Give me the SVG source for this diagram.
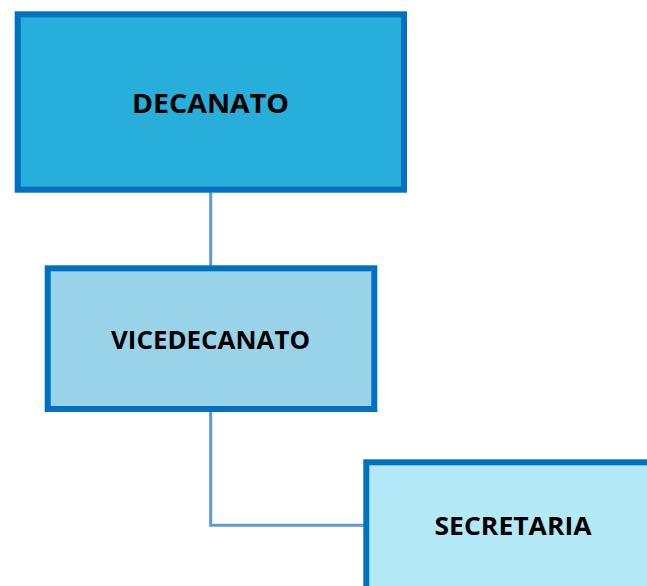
<svg xmlns="http://www.w3.org/2000/svg" width="647" height="586" viewBox="0 0 647 586">
<style>
.box{stroke:#0070C0;stroke-width:6}
.lbl{font-family:"Open Sans","Noto Sans","DejaVu Sans",sans-serif;font-weight:bold;fill:#000;text-anchor:middle}
.conn{fill:none;stroke:#5B9BD5;stroke-width:3}
</style>
<rect width="647" height="586" fill="#fff"/>
<g id="connectors">
<path class="conn" d="M210.7,189.7 V268.3"/>
<path class="conn" d="M210.7,409 V525.3 H366.3"/>
</g>
<g id="decanato">
<rect class="box" x="17.7" y="14.3" width="386.3" height="175.4" fill="#27AEDB"/>
<text class="lbl" x="210.5" y="112.7" font-size="27.5" textLength="157" lengthAdjust="spacingAndGlyphs">DECANATO</text>
</g>
<g id="vicedecanato">
<rect class="box" x="47.7" y="268.3" width="326.6" height="140.7" fill="#99D3E9"/>
<text class="lbl" x="210.5" y="349" font-size="25.5" textLength="199" lengthAdjust="spacingAndGlyphs">VICEDECANATO</text>
</g>
<g id="secretaria">
<rect class="box" x="366.3" y="462.3" width="294" height="141" fill="#B3E9F7"/>
<text class="lbl" x="513" y="535" font-size="25.5" textLength="157" lengthAdjust="spacingAndGlyphs">SECRETARIA</text>
</g>
</svg>
